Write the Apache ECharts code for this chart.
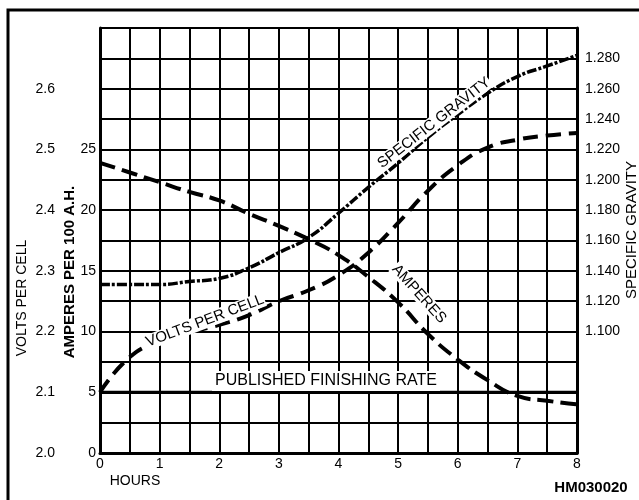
<!DOCTYPE html>
<html>
<head>
<meta charset="utf-8">
<script src="https://cdn.jsdelivr.net/npm/echarts@6/dist/echarts.min.js"></script>
<style>html,body{margin:0;padding:0;background:#fff;}#c{width:639px;height:500px;}</style>
</head>
<body>
<div id="c"></div>
<script>
const hours = [0, 0.5, 1, 1.5, 2, 2.5, 3, 3.5, 4, 4.5, 5, 5.5, 6, 6.5, 7, 7.5, 8];
const amperes = [23.9, 23.1, 22.3, 21.5, 20.8, 19.7, 18.7, 17.6, 16.3, 14.5, 12.4, 9.8, 7.7, 6.0, 4.7, 4.3, 4.0];
const voltsPerCell = [2.100, 2.158, 2.184, 2.199, 2.211, 2.227, 2.250, 2.268, 2.293, 2.330, 2.379, 2.432, 2.474, 2.503, 2.516, 2.523, 2.527];
const specificGravity = [1.131, 1.131, 1.131, 1.133, 1.135, 1.142, 1.152, 1.162, 1.178, 1.195, 1.211, 1.228, 1.243, 1.257, 1.268, 1.275, 1.282];
const finishingRateHours = [0, 8];
const finishingRate = [5, 5];
const voltTicks = ['2.0', '2.1', '2.2', '2.3', '2.4', '2.5', '2.6'];
const ampTicks = ['0', '5', '10', '15', '20', '25'];
const sgTicks = ['1.100', '1.120', '1.140', '1.160', '1.180', '1.200', '1.220', '1.240', '1.260', '1.280'];
const hourTicks = ['0', '1', '2', '3', '4', '5', '6', '7', '8'];

const FONT = '"Liberation Sans", Arial, Helvetica, sans-serif';
const zip = (xs, ys) => xs.map((x, i) => [x, ys[i]]);

const chart = echarts.init(document.getElementById('c'), null, {renderer: 'canvas'});
const lbl = {color: '#000', fontFamily: FONT, fontSize: 14};

chart.setOption({
  animation: false,
  backgroundColor: '#fff',
  grid: {left: 100, right: 62, top: 28, bottom: 47},
  xAxis: {
    type: 'value', min: 0, max: 8, interval: 0.5,
    axisLine: {show: true, lineStyle: {color: '#000', width: 3}},
    axisTick: {show: false},
    splitLine: {show: true, lineStyle: {color: '#000', width: 2}},
    axisLabel: Object.assign({}, lbl, {margin: 4,
      formatter: v => { const s = String(Math.round(v)); return (Math.abs(v - Math.round(v)) < 1e-6 && hourTicks.includes(s)) ? s : ''; }})
  },
  yAxis: [
    {
      type: 'value', min: 0, max: 35, interval: 2.5, position: 'left',
      axisLine: {show: true, lineStyle: {color: '#000', width: 3}},
      axisTick: {show: false},
      splitLine: {show: true, lineStyle: {color: '#000', width: 2}},
      axisLabel: Object.assign({}, lbl, {margin: 4,
        formatter: v => { const s = String(Math.round(v)); return (Math.abs(v - Math.round(v)) < 1e-6 && ampTicks.includes(s)) ? s : ''; }})
    },
    {
      type: 'value', min: 2.0, max: 2.7, interval: 0.1, position: 'left',
      axisLine: {show: false}, axisTick: {show: false}, splitLine: {show: false},
      axisLabel: Object.assign({}, lbl, {margin: 45,
        formatter: v => { const s = v.toFixed(1); return voltTicks.includes(s) ? s : ''; }})
    },
    {
      type: 'value', min: 1.02, max: 1.30, interval: 0.02, position: 'right',
      axisLine: {show: true, lineStyle: {color: '#000', width: 3}},
      axisTick: {show: false}, splitLine: {show: false},
      axisLabel: Object.assign({}, lbl, {margin: 8,
        formatter: v => { const s = v.toFixed(3); return sgTicks.includes(s) ? s : ''; }})
    }
  ],
  series: [
    {
      name: 'PUBLISHED FINISHING RATE', type: 'line', yAxisIndex: 0, symbol: 'none',
      data: zip(finishingRateHours, finishingRate),
      lineStyle: {color: '#000', width: 3, type: 'solid'}, z: 3
    },
    {
      name: 'AMPERES', type: 'line', yAxisIndex: 0, symbol: 'none', smooth: 0.5,
      data: zip(hours, amperes),
      lineStyle: {color: '#000', width: 4, type: [16, 7]}, z: 4
    },
    {
      name: 'VOLTS PER CELL', type: 'line', yAxisIndex: 1, symbol: 'none', smooth: 0.5,
      data: zip(hours, voltsPerCell),
      lineStyle: {color: '#000', width: 4, type: [15, 8]}, z: 4
    },
    {
      name: 'SPECIFIC GRAVITY', type: 'line', yAxisIndex: 2, symbol: 'none', smooth: 0.5,
      data: zip(hours, specificGravity),
      lineStyle: {color: '#000', width: 3.5, type: [10, 2, 3, 2]}, z: 4
    }
  ],
  graphic: [
    {type: 'rect', shape: {x: 8, y: 10, width: 640, height: 500}, style: {fill: 'none', stroke: '#000', lineWidth: 3}, z: 100},
    {type: 'text', x: 22, y: 298, rotation: Math.PI / 2, style: {text: 'VOLTS PER CELL', fill: '#000', font: '14px ' + FONT, align: 'center', verticalAlign: 'middle'}, z: 100},
    {type: 'text', x: 70, y: 272, rotation: Math.PI / 2, style: {text: 'AMPERES PER 100 A.H.', fill: '#000', font: 'bold 15px ' + FONT, align: 'center', verticalAlign: 'middle'}, z: 100},
    {type: 'text', x: 632, y: 230, rotation: Math.PI / 2, style: {text: 'SPECIFIC GRAVITY', fill: '#000', font: '15px ' + FONT, align: 'center', verticalAlign: 'middle'}, z: 100},
    {type: 'text', x: 135, y: 481, style: {text: 'HOURS', fill: '#000', font: '14px ' + FONT, align: 'center', verticalAlign: 'middle'}, z: 100},
    {type: 'text', x: 591, y: 488, style: {text: 'HM030020', fill: '#000', font: 'bold 15px ' + FONT, align: 'center', verticalAlign: 'middle'}, z: 100},
    {type: 'text', x: 326, y: 381, style: {text: 'PUBLISHED FINISHING RATE', fill: '#000', font: '16px ' + FONT, align: 'center', verticalAlign: 'middle', backgroundColor: '#fff', padding: [2, 3]}, z: 100},
    {type: 'text', x: 205, y: 321, rotation: 0.36, style: {text: 'VOLTS PER CELL', fill: '#000', font: '15px ' + FONT, align: 'center', verticalAlign: 'middle', backgroundColor: '#fff', padding: [0, 1]}, z: 100},
    {type: 'text', x: 434, y: 123, rotation: 0.66, style: {text: 'SPECIFIC GRAVITY', fill: '#000', font: '15px ' + FONT, align: 'center', verticalAlign: 'middle', backgroundColor: '#fff', padding: [0, 1]}, z: 100},
    {type: 'text', x: 419, y: 294, rotation: -0.84, style: {text: 'AMPERES', fill: '#000', font: '15px ' + FONT, align: 'center', verticalAlign: 'middle', backgroundColor: '#fff', padding: [0, 1]}, z: 100}
  ]
});
</script>
</body>
</html>
